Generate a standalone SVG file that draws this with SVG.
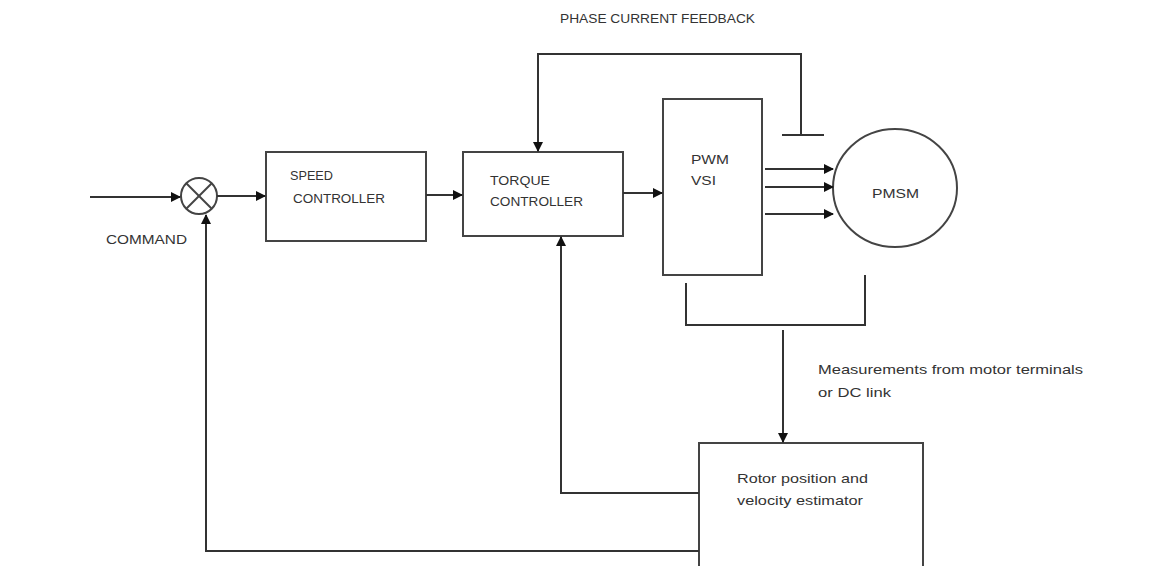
<svg xmlns="http://www.w3.org/2000/svg" width="1164" height="566" viewBox="0 0 1164 566">
<style>
.box{fill:#fff;stroke:#444;stroke-width:2}
.ln{fill:none;stroke:#333;stroke-width:2}
.t{font-family:"Liberation Sans",Arial,sans-serif;font-size:13.5px;fill:#333}
</style>
<defs>
<marker id="ah" markerWidth="10" markerHeight="10" refX="9" refY="5" orient="auto" markerUnits="userSpaceOnUse" viewBox="0 0 10 10">
<path d="M0,0 L10,5 L0,10 Z" fill="#111"/>
</marker>
</defs>
<rect width="1164" height="566" fill="#fff"/>
<text class="t" x="560" y="23" font-size="14" textLength="195" lengthAdjust="spacingAndGlyphs">PHASE CURRENT FEEDBACK</text>
<g id="sum">
<circle cx="199" cy="196" r="18" fill="#fff" stroke="#444" stroke-width="2"/>
<line x1="186" y1="183" x2="212" y2="209" stroke="#444" stroke-width="2"/>
<line x1="212" y1="183" x2="186" y2="209" stroke="#444" stroke-width="2"/>
</g>
<text class="t" x="106" y="244" textLength="81" lengthAdjust="spacingAndGlyphs">COMMAND</text>
<g id="speed">
<rect class="box" x="266" y="152" width="160" height="89"/>
<text class="t" x="290" y="180" textLength="43" lengthAdjust="spacingAndGlyphs">SPEED</text>
<text class="t" x="293" y="203" textLength="92" lengthAdjust="spacingAndGlyphs">CONTROLLER</text>
</g>
<g id="torque">
<rect class="box" x="463" y="152" width="160" height="84"/>
<text class="t" x="490" y="185" textLength="60" lengthAdjust="spacingAndGlyphs">TORQUE</text>
<text class="t" x="490" y="206" textLength="93" lengthAdjust="spacingAndGlyphs">CONTROLLER</text>
</g>
<g id="pwm">
<rect class="box" x="663" y="99" width="99" height="176"/>
<text class="t" x="691" y="164" textLength="38" lengthAdjust="spacingAndGlyphs">PWM</text>
<text class="t" x="691" y="185" textLength="25" lengthAdjust="spacingAndGlyphs">VSI</text>
</g>
<g id="pmsm">
<ellipse cx="895" cy="188" rx="62" ry="59" fill="#fff" stroke="#444" stroke-width="2"/>
<text class="t" x="872" y="198" textLength="47" lengthAdjust="spacingAndGlyphs">PMSM</text>
</g>
<g id="estimator">
<rect class="box" x="699" y="443" width="224" height="140"/>
<text class="t" x="737" y="483" font-size="15" textLength="131" lengthAdjust="spacingAndGlyphs">Rotor position and</text>
<text class="t" x="737" y="505" font-size="15" textLength="126" lengthAdjust="spacingAndGlyphs">velocity estimator</text>
</g>
<text class="t" x="818" y="374" font-size="15.5" textLength="265" lengthAdjust="spacingAndGlyphs">Measurements from motor terminals</text>
<text class="t" x="818" y="397" font-size="15.5" textLength="73" lengthAdjust="spacingAndGlyphs">or DC link</text>
<g id="connectors">
<line class="ln" x1="90" y1="197" x2="180" y2="197" marker-end="url(#ah)"/>
<line class="ln" x1="217" y1="196" x2="265" y2="196" marker-end="url(#ah)"/>
<line class="ln" x1="426" y1="195" x2="462" y2="195" marker-end="url(#ah)"/>
<line class="ln" x1="623" y1="193" x2="662" y2="193" marker-end="url(#ah)"/>
<line class="ln" x1="765" y1="169" x2="833" y2="169" marker-end="url(#ah)"/>
<line class="ln" x1="765" y1="187" x2="833" y2="187" marker-end="url(#ah)"/>
<line class="ln" x1="765" y1="214" x2="833" y2="214" marker-end="url(#ah)"/>
<polyline class="ln" points="801,135 801,54 538,54 538,151" marker-end="url(#ah)"/>
<line class="ln" x1="782" y1="135" x2="824" y2="135"/>
<polyline class="ln" points="686,283 686,325 865,325 865,275"/>
<line class="ln" x1="783" y1="330" x2="783" y2="442" marker-end="url(#ah)"/>
<polyline class="ln" points="699,493 561,493 561,237" marker-end="url(#ah)"/>
<polyline class="ln" points="699,551 206,551 206,215" marker-end="url(#ah)"/>
</g>
</svg>
